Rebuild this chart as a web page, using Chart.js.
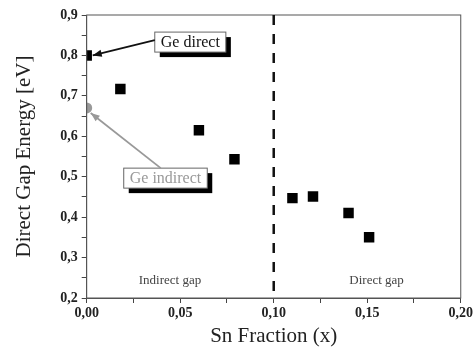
<!DOCTYPE html>
<html>
<head>
<meta charset="utf-8">
<script src="https://cdn.jsdelivr.net/npm/chart.js@4"></script>
<style>
  html, body { margin: 0; padding: 0; background: #fff; }
  #wrap { width: 475px; height: 352px; }
</style>
</head>
<body>
<div id="wrap"><canvas id="chart"></canvas></div>
<script>
// Sn fraction vs direct gap
var snFraction = [0.0, 0.018, 0.060, 0.079, 0.110, 0.121, 0.140, 0.151];
var directGap  = [0.800, 0.717, 0.615, 0.543, 0.447, 0.451, 0.410, 0.350];
var geIndirectX = [0.0];
var geIndirectY = [0.670];
var crossover = 0.10;

var serif = '"Liberation Serif", "Times New Roman", serif';

function pts(xs, ys) {
    return xs.map(function(x, i) { return {x: x, y: ys[i]}; });
}

function isMajor(v, step) {
    return Math.abs(v / step - Math.round(v / step)) < 1e-6;
}

// frame, dashed crossover line, labels and callouts
var decorPlugin = {
    id: 'decor',
    afterDatasetsDraw(chart) {
        var ctx = chart.ctx;
        var a = chart.chartArea;
        var xs = chart.scales.x, ys = chart.scales.y;
        ctx.save();

        // box round plot
        ctx.strokeStyle = '#555';
        ctx.lineWidth = 1;
        ctx.strokeRect(a.left, a.top, a.right - a.left, a.bottom - a.top);

        // dashed line at crossover
        var xd = xs.getPixelForValue(crossover);
        ctx.strokeStyle = '#111';
        ctx.lineWidth = 2.5;
        ctx.setLineDash([10, 9]);
        ctx.beginPath();
        ctx.moveTo(xd, a.top);
        ctx.lineTo(xd, a.bottom);
        ctx.stroke();
        ctx.setLineDash([]);

        // region labels
        ctx.font = '13px ' + serif;
        ctx.fillStyle = '#444';
        ctx.textAlign = 'center';
        ctx.textBaseline = 'middle';
        ctx.fillText('Indirect gap', xs.getPixelForValue(0.0445), ys.getPixelForValue(0.243));
        ctx.fillText('Direct gap', xs.getPixelForValue(0.155), ys.getPixelForValue(0.243));

        function arrow(x1, y1, x2, y2, col) {
            ctx.strokeStyle = col;
            ctx.fillStyle = col;
            ctx.lineWidth = 1.8;
            ctx.beginPath();
            ctx.moveTo(x1, y1);
            ctx.lineTo(x2, y2);
            ctx.stroke();
            var ang = Math.atan2(y2 - y1, x2 - x1);
            var L = 9, W = 3.5;
            ctx.beginPath();
            ctx.moveTo(x2, y2);
            ctx.lineTo(x2 - L * Math.cos(ang) + W * Math.sin(ang), y2 - L * Math.sin(ang) - W * Math.cos(ang));
            ctx.lineTo(x2 - L * Math.cos(ang) - W * Math.sin(ang), y2 - L * Math.sin(ang) + W * Math.cos(ang));
            ctx.closePath();
            ctx.fill();
        }

        function callout(text, bx, by, col) {
            ctx.font = '16px ' + serif;
            var w = ctx.measureText(text).width + 12;
            var h = 20;
            var x = xs.getPixelForValue(bx);
            var y = ys.getPixelForValue(by) - h / 2;
            ctx.fillStyle = '#000';
            ctx.fillRect(x + 5, y + 5, w, h);
            ctx.fillStyle = '#fff';
            ctx.fillRect(x, y, w, h);
            ctx.strokeStyle = '#666';
            ctx.lineWidth = 1;
            ctx.strokeRect(x, y, w, h);
            ctx.fillStyle = col;
            ctx.textAlign = 'center';
            ctx.textBaseline = 'middle';
            ctx.fillText(text, x + w / 2, y + h / 2 + 1);
            return {x: x, y: y, w: w, h: h};
        }

        var b1 = callout('Ge direct', 0.0364, 0.833, '#111');
        arrow(b1.x, b1.y + 8, xs.getPixelForValue(0) + 6, ys.getPixelForValue(directGap[0]), '#111');

        var b2 = callout('Ge indirect', 0.0198, 0.4965, '#999');
        arrow(b2.x + 37, b2.y, xs.getPixelForValue(0) + 4, ys.getPixelForValue(geIndirectY[0]) + 5, '#999');

        ctx.restore();
    }
};

new Chart(document.getElementById('chart'), {
    type: 'scatter',
    data: {
        datasets: [
            {
                label: 'Direct gap',
                data: pts(snFraction, directGap),
                pointStyle: 'rect',
                pointRadius: 7.4,
                backgroundColor: '#000',
                borderColor: '#000',
                borderWidth: 0
            },
            {
                label: 'Ge indirect',
                data: pts(geIndirectX, geIndirectY),
                pointStyle: 'circle',
                pointRadius: 5.5,
                backgroundColor: '#999',
                borderColor: '#999',
                borderWidth: 0
            }
        ]
    },
    options: {
        responsive: true,
        maintainAspectRatio: false,
        animation: false,
        layout: { padding: { top: 15, right: 4, left: 12, bottom: 3 } },
        plugins: {
            legend: { display: false },
            tooltip: { enabled: false }
        },
        scales: {
            x: {
                type: 'linear',
                min: 0,
                max: 0.2,
                border: { color: '#555', width: 1 },
                grid: { drawOnChartArea: false, tickLength: 5, tickColor: '#444' },
                ticks: {
                    stepSize: 0.025,
                    autoSkip: false,
                    maxRotation: 0,
                    padding: 2,
                    color: '#222',
                    font: { family: serif, size: 14, weight: 'bold' },
                    callback: function(v) {
                        return isMajor(v, 0.05) ? v.toFixed(2).replace('.', ',') : '';
                    }
                },
                title: {
                    display: true,
                    text: 'Sn Fraction (x)',
                    color: '#222',
                    font: { family: serif, size: 21 },
                    padding: { top: 0, bottom: 0 }
                }
            },
            y: {
                type: 'linear',
                min: 0.2,
                max: 0.9,
                border: { color: '#555', width: 1 },
                grid: { drawOnChartArea: false, tickLength: 5, tickColor: '#444' },
                ticks: {
                    stepSize: 0.05,
                    autoSkip: false,
                    padding: 4,
                    color: '#222',
                    font: { family: serif, size: 14, weight: 'bold' },
                    callback: function(v) {
                        return isMajor(v, 0.1) ? v.toFixed(1).replace('.', ',') : '';
                    }
                },
                title: {
                    display: true,
                    text: 'Direct Gap Energy [eV]',
                    color: '#222',
                    font: { family: serif, size: 21 },
                    padding: { top: 0, bottom: 19 }
                }
            }
        }
    },
    plugins: [decorPlugin]
});
</script>
</body>
</html>
